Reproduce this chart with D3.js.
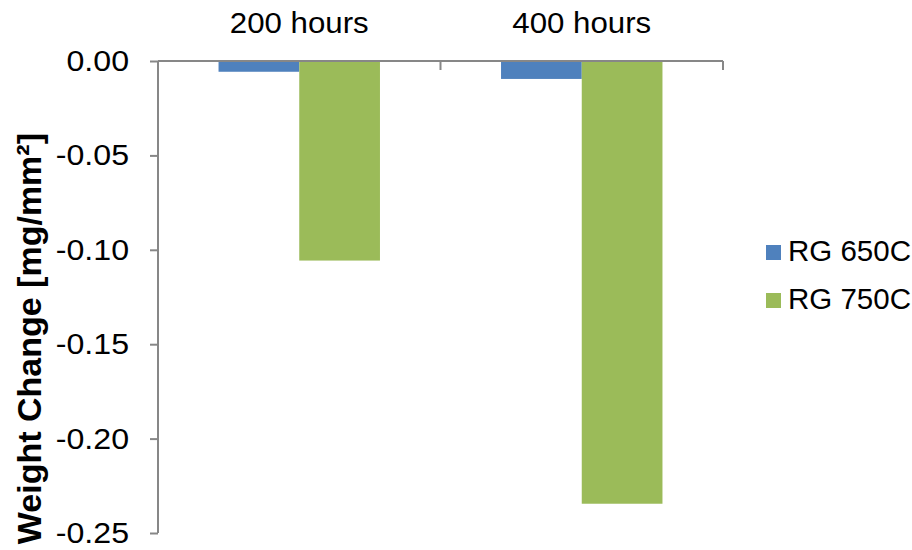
<!DOCTYPE html>
<html>
<head>
<meta charset="utf-8">
<script src="https://cdn.jsdelivr.net/npm/d3@7"></script>
<style>
  html, body { margin: 0; padding: 0; background: #fff; }
  svg { display: block; font-family: "Liberation Sans", Arial, sans-serif; }
</style>
</head>
<body>
<svg id="chart" width="912" height="550"></svg>
<script>
// Exposure times (categories) and weight change per series, mg/mm²
const categories = ["200 hours", "400 hours"];
const seriesNames = ["RG 650C", "RG 750C"];
const rg650 = [-0.0057, -0.0095];
const rg750 = [-0.1057, -0.2345];
const seriesColors = ["#4F81BD", "#9BBB59"];
const yTickValues = [0, -0.05, -0.10, -0.15, -0.20, -0.25];
const yTickLabels = ["0.00", "-0.05", "-0.10", "-0.15", "-0.20", "-0.25"];
const yTitle = "Weight Change [mg/mm\u00B2]";

const series = [rg650, rg750];
const rows = categories.map((c, i) => ({
  cat: c,
  values: seriesNames.map((s, j) => ({ key: s, value: series[j][i] }))
}));

const svg = d3.select("#chart");
const axisColor = "#878787";
const fontSize = "29.5px";

const plot = { left: 158, right: 723, top: 61, bottom: 533 };

const y = d3.scaleLinear().domain([-0.25, 0]).range([plot.bottom, plot.top]);
const x0 = d3.scaleBand().domain(categories).range([plot.left, plot.right]);
const x1 = d3.scaleBand().domain(seriesNames).range([0, x0.bandwidth()])
  .paddingInner(0).paddingOuter(0.75);
const color = d3.scaleOrdinal().domain(seriesNames).range(seriesColors);

// Bars
svg.append("g").selectAll("g")
  .data(rows)
  .join("g")
  .attr("transform", d => `translate(${x0(d.cat)},0)`)
  .selectAll("rect")
  .data(d => d.values)
  .join("rect")
  .attr("x", d => x1(d.key))
  .attr("width", x1.bandwidth())
  .attr("y", d => y(Math.max(0, d.value)))
  .attr("height", d => Math.abs(y(d.value) - y(0)))
  .attr("fill", d => color(d.key));

// Value axis on the left
const yAxis = svg.append("g")
  .attr("transform", `translate(${plot.left},0)`)
  .call(d3.axisLeft(y)
    .tickValues(yTickValues)
    .tickSize(8)
    .tickPadding(18.6)
    .tickFormat((d, i) => yTickLabels[i]));
yAxis.select(".domain").remove();
yAxis.selectAll(".tick line").attr("stroke", axisColor).attr("stroke-width", 2);
yAxis.selectAll(".tick text")
  .attr("fill", "#000")
  .attr("transform", "scale(1.09,1)")
  .style("font-size", fontSize)
  .style("font-family", "'Liberation Sans', Arial, sans-serif");
yAxis.append("line")
  .attr("x1", 0).attr("x2", 0)
  .attr("y1", plot.top).attr("y2", plot.bottom)
  .attr("stroke", axisColor).attr("stroke-width", 2);

// Category axis along the zero line, labels above
const xAxis = svg.append("g")
  .attr("transform", `translate(0,${y(0)})`)
  .call(d3.axisTop(x0).tickSize(0).tickPadding(28.5));
xAxis.select(".domain").remove();
xAxis.selectAll(".tick text")
  .attr("fill", "#000")
  .attr("transform", "scale(1.06,1)")
  .style("font-size", fontSize)
  .style("font-family", "'Liberation Sans', Arial, sans-serif");
xAxis.append("line")
  .attr("x1", plot.left).attr("x2", plot.right)
  .attr("y1", 0).attr("y2", 0)
  .attr("stroke", axisColor).attr("stroke-width", 2);
// Category boundary ticks
const bounds = categories.map(c => x0(c) + x0.bandwidth());
xAxis.selectAll(".bound")
  .data(bounds)
  .join("line")
  .attr("class", "bound")
  .attr("x1", d => d).attr("x2", d => d)
  .attr("y1", 0).attr("y2", 9)
  .attr("stroke", axisColor).attr("stroke-width", 2);

// Axis title
svg.append("text")
  .attr("transform", `translate(41,133) rotate(-90)`)
  .attr("text-anchor", "end")
  .style("font-size", "34px")
  .style("font-weight", "bold")
  .attr("fill", "#000")
  .text(yTitle);

// Legend
const legend = svg.append("g").attr("transform", "translate(766,245)");
const item = legend.selectAll("g")
  .data(seriesNames)
  .join("g")
  .attr("transform", (d, i) => `translate(0,${i * 48})`);
item.append("rect")
  .attr("width", 15).attr("height", 15)
  .attr("fill", d => color(d));
item.append("text")
  .attr("x", 22).attr("y", 16)
  .style("font-size", fontSize)
  .attr("fill", "#000")
  .text(d => d);
</script>
</body>
</html>
